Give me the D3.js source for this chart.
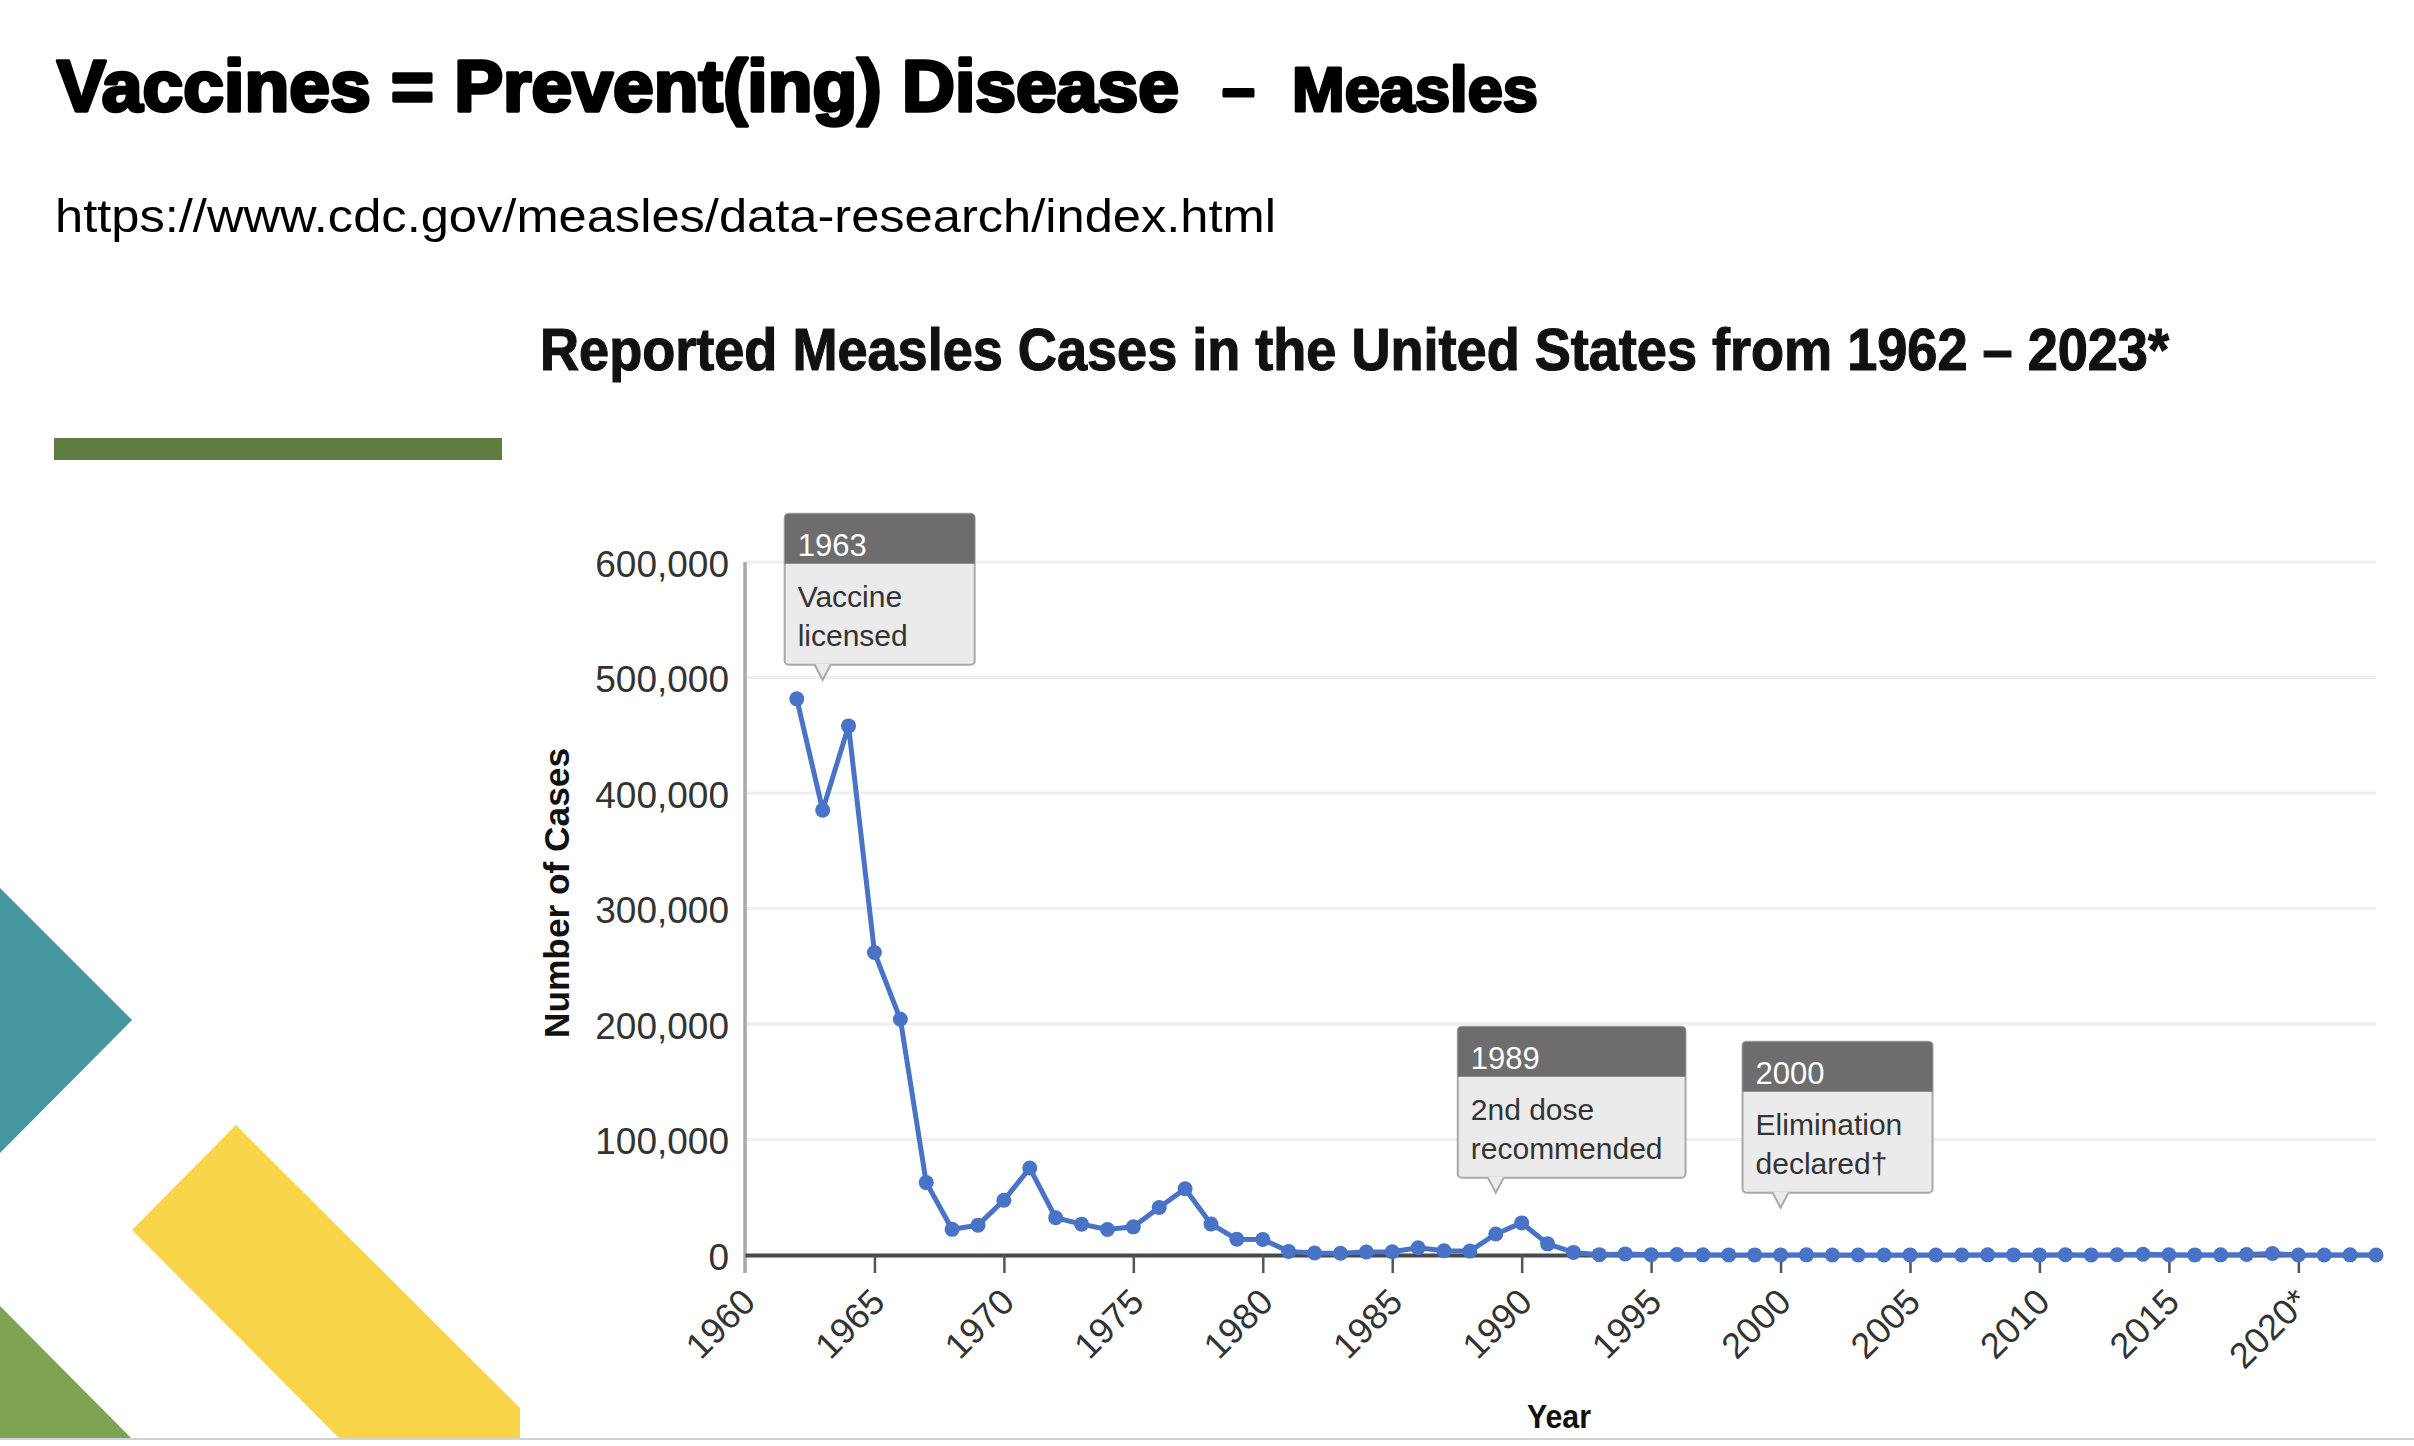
<!DOCTYPE html>
<html>
<head>
<meta charset="utf-8">
<script src="https://cdn.jsdelivr.net/npm/d3@7"></script>
<style>
  body { margin: 0; background: #fff; }
  svg { display: block; }
  text { font-family: "Liberation Sans", Arial, sans-serif; }
</style>
</head>
<body>
<svg id="slide"></svg>
<script>
// reported measles cases, 1962 - 2023
const years = d3.range(1962, 2024);
const cases = [
  481530, 385156, 458083, 261904, 204136, 62705, 22231, 25826, 47351, 75290,
  32275, 26690, 22094, 24374, 41126, 57345, 26871, 13597, 13506, 3124,
  1714, 1497, 2587, 2822, 6282, 3655, 3396, 18193, 27786, 9643,
  2237, 312, 963, 309, 508, 138, 100, 100, 86, 116,
  44, 56, 37, 66, 55, 43, 140, 71, 63, 220,
  55, 187, 667, 188, 86, 120, 375, 1274, 13, 49,
  121, 59
];
const yTicks = [0, 100000, 200000, 300000, 400000, 500000, 600000];
const xTicks = [1960, 1965, 1970, 1975, 1980, 1985, 1990, 1995, 2000, 2005, 2010, 2015, 2020];
const xTickLabels = ["1960", "1965", "1970", "1975", "1980", "1985", "1990", "1995", "2000", "2005", "2010", "2015", "2020*"];

// callouts: year, height of the pointer tip (cases), text
const noteYears = [1963, 1989, 2000];
const noteLevels = [498000, 54000, 41000];
const noteLines = [["Vaccine", "licensed"], ["2nd dose", "recommended"], ["Elimination", "declared\u2020"]];

let W = 2414, H = 1446;
let svg = d3.select('#slide')
  .attr('width', W)
  .attr('height', H);

svg.append('rect').attr('width', W).attr('height', H).attr('fill', '#fff');

// ---- slide decoration ----
svg.append('polygon').attr('points', '0,888 132,1020 0,1153').attr('fill', '#4596a1');
svg.append('polygon').attr('points', '236,1125 520,1408 520,1438 339,1438 132,1230').attr('fill', '#f8d449');
svg.append('polygon').attr('points', '0,1306 131,1438 0,1438').attr('fill', '#7ea453');
svg.append('line').attr('x1', 0).attr('x2', W).attr('y1', 1439).attr('y2', 1439)
  .attr('stroke', '#d2d2d2').attr('stroke-width', 2);
svg.append('rect').attr('x', 54).attr('y', 438).attr('width', 448).attr('height', 22).attr('fill', '#607d40');

// ---- slide titles (heavy face imitated with a stroke) ----
function heavy(t, sw) {
  return t.attr('font-weight', 900).attr('stroke', '#000').attr('stroke-width', sw)
    .attr('stroke-linejoin', 'round').attr('lengthAdjust', 'spacingAndGlyphs');
}
heavy(svg.append('text').attr('x', 57).attr('y', 111)
  .attr('font-size', 72).attr('textLength', 1122), 3.5)
  .text('Vaccines = Prevent(ing) Disease');
heavy(svg.append('text').attr('x', 1222).attr('y', 111)
  .attr('font-size', 66).attr('textLength', 33), 3)
  .text('\u2013');
heavy(svg.append('text').attr('x', 1292).attr('y', 111)
  .attr('font-size', 63).attr('textLength', 246), 3)
  .text('Measles');
svg.append('text').attr('x', 55).attr('y', 232)
  .attr('font-size', 46)
  .attr('textLength', 1221).attr('lengthAdjust', 'spacingAndGlyphs')
  .text('https://www.cdc.gov/measles/data-research/index.html');

// ---- chart ----
svg.append('text').attr('x', 540).attr('y', 370)
  .attr('font-size', 59).attr('font-weight', 'bold').attr('fill', '#111')
  .attr('stroke', '#111').attr('stroke-width', 1.2)
  .attr('textLength', 1629).attr('lengthAdjust', 'spacingAndGlyphs')
  .text('Reported Measles Cases in the United States from 1962 \u2013 2023*');

let x = d3.scaleLinear().domain([1960, 2023]).range([745, 2376]);
let y = d3.scaleLinear().domain([0, 600000]).range([1255, 562]);

// grid
svg.append('g').selectAll('line')
  .data(yTicks.filter(d => d > 0))
  .enter()
  .append('line')
  .attr('x1', x(1960)).attr('x2', x(2023))
  .attr('y1', d => y(d)).attr('y2', d => y(d))
  .attr('stroke', '#efefef').attr('stroke-width', 3);

// y axis
let yAxis = svg.append('g')
  .attr('transform', `translate(${x(1960)},0)`)
  .call(d3.axisLeft(y).tickValues(yTicks).tickFormat(d3.format(',')).tickSize(0).tickPadding(16));
yAxis.select('.domain').remove();
yAxis.selectAll('text').attr('font-size', 37).attr('fill', '#333')
  .attr('font-family', '"Liberation Sans", Arial, sans-serif')
  .attr('dy', '0.38em');
svg.append('line')
  .attr('x1', x(1960)).attr('x2', x(1960))
  .attr('y1', y(600000)).attr('y2', y(0) + 18)
  .attr('stroke', '#a8a8a8').attr('stroke-width', 3.5);

// x axis
let xAxis = svg.append('g')
  .attr('transform', `translate(0,${y(0)})`)
  .call(d3.axisBottom(x).tickValues(xTicks).tickSizeInner(18).tickSizeOuter(0)
    .tickFormat((d, i) => xTickLabels[i]));
xAxis.select('.domain').attr('stroke', '#4a4a4a').attr('stroke-width', 4);
xAxis.selectAll('.tick line').attr('stroke', '#555').attr('stroke-width', 2.5);
xAxis.selectAll('.tick line').filter(d => d === 1960).remove();
xAxis.selectAll('text')
  .attr('font-size', 36).attr('fill', '#333')
  .attr('font-family', '"Liberation Sans", Arial, sans-serif')
  .attr('text-anchor', 'end')
  .attr('dy', 0).attr('y', 0)
  .attr('transform', 'translate(12,49) rotate(-45)');

// axis titles
svg.append('text')
  .attr('transform', 'translate(569,893) rotate(-90)')
  .attr('text-anchor', 'middle').attr('font-size', 35).attr('font-weight', 'bold').attr('fill', '#111')
  .attr('textLength', 290).attr('lengthAdjust', 'spacingAndGlyphs')
  .text('Number of Cases');
svg.append('text')
  .attr('x', 1559).attr('y', 1428)
  .attr('text-anchor', 'middle').attr('font-size', 34).attr('font-weight', 'bold').attr('fill', '#111')
  .attr('textLength', 64).attr('lengthAdjust', 'spacingAndGlyphs')
  .text('Year');

// series
let series = years.map((yr, i) => ({ year: yr, value: cases[i] }));
let line = d3.line().x(d => x(d.year)).y(d => y(d.value));
svg.append('path')
  .datum(series)
  .attr('d', line)
  .attr('fill', 'none')
  .attr('stroke', '#4873c6')
  .attr('stroke-width', 5)
  .attr('stroke-linejoin', 'round');
svg.append('g').selectAll('circle')
  .data(series)
  .enter()
  .append('circle')
  .attr('cx', d => x(d.year))
  .attr('cy', d => y(d.value))
  .attr('r', 7.5)
  .attr('fill', '#4873c6');

// callouts
noteYears.forEach(function (yr, i) {
  let px = x(yr), py = y(noteLevels[i]);
  let g = svg.append('g');
  let bottom = py - 15, top = bottom - 151, left = px - 38;
  let body = g.append('rect');
  let head = g.append('path');
  let tri = g.append('polygon');
  let edge = g.append('polyline');
  let label = g.append('text').attr('x', left + 13).attr('y', top + 42)
    .attr('font-size', 31).attr('fill', '#fff').text(yr);
  let w = 0;
  noteLines[i].forEach(function (s, j) {
    let t = g.append('text').attr('x', left + 13).attr('y', top + 93 + j * 39)
      .attr('font-size', 30).attr('fill', '#333').text(s);
    w = Math.max(w, t.node().getComputedTextLength());
  });
  let bw = Math.max(190, w + 36);
  body.attr('x', left).attr('y', top).attr('width', bw).attr('height', 151).attr('rx', 4)
    .attr('fill', '#ebebeb').attr('stroke', '#a9a9a9').attr('stroke-width', 2);
  head.attr('d', `M${left},${top + 50} V${top + 4} Q${left},${top} ${left + 4},${top} H${left + bw - 4} Q${left + bw},${top} ${left + bw},${top + 4} V${top + 50} Z`)
    .attr('fill', '#6d6d6d');
  tri.attr('points', `${px - 8},${bottom - 1} ${px},${py} ${px + 8},${bottom - 1}`).attr('fill', '#ebebeb');
  edge.attr('points', `${px - 8},${bottom} ${px},${py} ${px + 8},${bottom}`)
    .attr('fill', 'none').attr('stroke', '#a9a9a9').attr('stroke-width', 2);
  label.raise();
});
</script>
</body>
</html>
